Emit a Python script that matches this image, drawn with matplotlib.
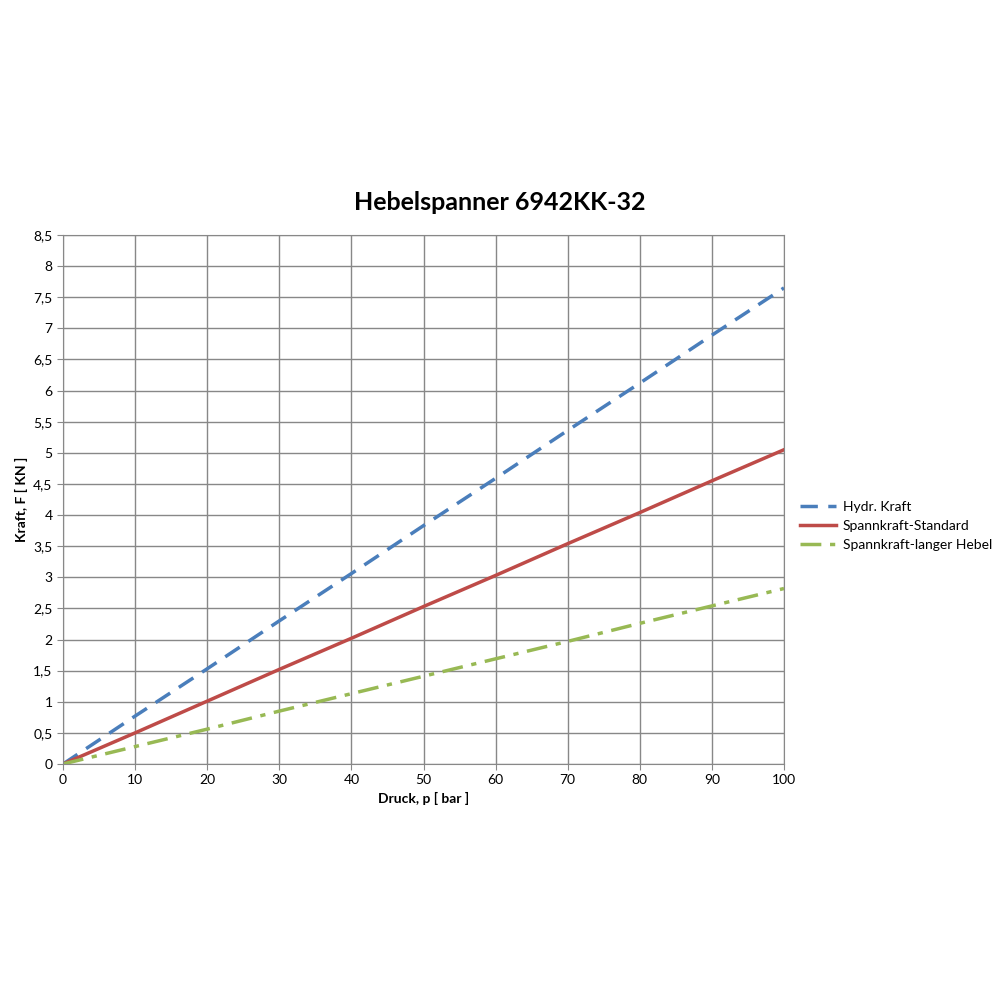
import matplotlib
matplotlib.use("Agg")
import matplotlib.pyplot as plt
from matplotlib.ticker import FuncFormatter, MultipleLocator

plt.rcParams['font.family'] = ['Lato', 'DejaVu Sans']

pressure = [0, 10, 20, 30, 40, 50, 60, 70, 80, 90, 100]
hydr = [0.0, 0.77, 1.53, 2.30, 3.06, 3.83, 4.59, 5.36, 6.12, 6.89, 7.65]
standard = [0.0, 0.50, 1.01, 1.52, 2.02, 2.53, 3.03, 3.54, 4.04, 4.55, 5.05]
langer = [0.0, 0.28, 0.56, 0.85, 1.13, 1.41, 1.69, 1.97, 2.26, 2.54, 2.82]

fig = plt.figure(figsize=(10, 10), dpi=100)
ax = fig.add_axes([0.063, 0.236, 0.721, 0.529])
ax.plot(pressure, hydr, color='#4a7ebb', lw=2.5, dashes=(5, 3), label='Hydr. Kraft')
ax.plot(pressure, standard, color='#be4b48', lw=2.5, label='Spannkraft-Standard')
ax.plot(pressure, langer, color='#98b954', lw=2.5, dashes=(6, 2.5, 1.5, 2.5), label='Spannkraft-langer Hebel')

ax.set_xlim(0, 100)
ax.set_ylim(0, 8.5)
ax.xaxis.set_major_locator(MultipleLocator(10))
ax.yaxis.set_major_locator(MultipleLocator(0.5))
ax.yaxis.set_major_formatter(FuncFormatter(lambda v, p: f"{v:g}".replace('.', ',')))
ax.grid(True, color='#888888', lw=1)
for s in ax.spines.values():
    s.set_color('#888888')
ax.tick_params(labelsize=10, length=4, color='#888888')
ax.set_xlabel('Druck, p [ bar ]', fontsize=10, fontweight='bold')
ax.set_ylabel('Kraft, F [ KN ]', fontsize=10, fontweight='bold')
fig.text(0.5, 0.797, 'Hebelspanner 6942KK-32', fontsize=18, fontweight='bold',
         ha='center', va='center')
ax.legend(loc='center left', bbox_to_anchor=(1.01, 0.45), frameon=False, fontsize=10,
          handlelength=2.6, handletextpad=0.5, borderaxespad=0.2)
fig.savefig('out.png', dpi=100)
